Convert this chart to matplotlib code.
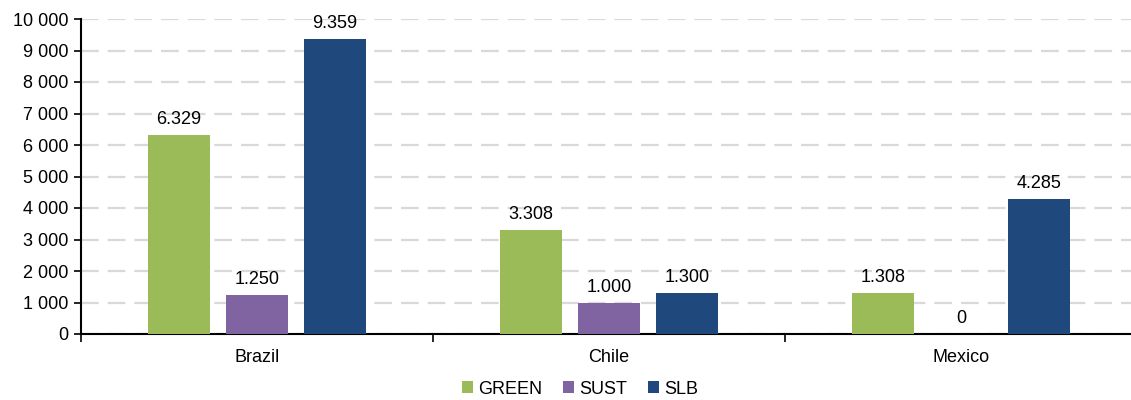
import matplotlib.pyplot as plt
from matplotlib.ticker import FuncFormatter, FixedLocator

plt.rcParams["font.family"] = ["Liberation Sans", "DejaVu Sans"]

countries = ["Brazil", "Chile", "Mexico"]
series = ["GREEN", "SUST", "SLB"]
green = [6329, 3308, 1308]
sust = [1250, 1000, 0]
slb = [9359, 1300, 4285]
colors = ["#9BBB59", "#8064A2", "#1F497D"]

fig = plt.figure(figsize=(11.31, 4.0), dpi=100)
ax = fig.add_axes([81 / 1131, 66 / 400, 1056 / 1131, 315 / 400])

width = 0.176
step = 0.2216
x = list(range(len(countries)))
for i, (name, vals, col) in enumerate(zip(series, [green, sust, slb], colors)):
    pos = [xi + (i - 1) * step for xi in x]
    ax.bar(pos, vals, width=width, color=col, label=name, zorder=3)
    for p, v in zip(pos, vals):
        ax.annotate(f"{v:,}".replace(",", "."), (p, v), xytext=(0, 5),
                    textcoords="offset points", ha="center", va="bottom",
                    fontsize=13)

ax.set_xlim(-0.5, 2.5)
ax.set_ylim(0, 10000)
ax.set_yticks(range(0, 10001, 1000))
ax.yaxis.set_major_formatter(FuncFormatter(lambda v, _: f"{int(v):,}".replace(",", " ")))
ax.grid(axis="y", color="#d9d9d9", linestyle=(0, (8, 4)), linewidth=1.6, zorder=0)

ax.xaxis.set_major_locator(FixedLocator([-0.5, 0.5, 1.5, 2.5]))
ax.xaxis.set_major_formatter(FuncFormatter(lambda v, _: ""))
ax.xaxis.set_minor_locator(FixedLocator(x))
ax.set_xticklabels(countries, minor=True)
ax.tick_params(axis="x", which="minor", length=0, labelsize=13, pad=11)
ax.tick_params(axis="x", which="major", length=6, width=1.2)
ax.tick_params(axis="y", length=5, width=1.2, labelsize=13, pad=4)

for s in ["top", "right"]:
    ax.spines[s].set_visible(False)
ax.spines["left"].set_linewidth(1.5)
ax.spines["bottom"].set_linewidth(1.5)

fig.legend(loc="center", bbox_to_anchor=(580 / 1131, 11 / 400), ncol=3,
           frameon=False, fontsize=13, handlelength=0.6, handleheight=0.6,
           handletextpad=0.3, columnspacing=1.15)

fig.savefig("out.png", dpi=100)
